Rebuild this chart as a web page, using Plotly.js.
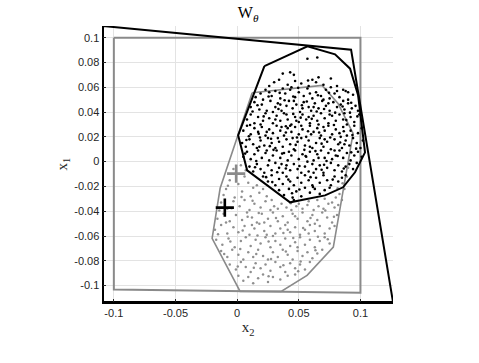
<!DOCTYPE html>
<html>
<head>
<meta charset="utf-8">
<script src="https://cdn.plot.ly/plotly-3.0.1.min.js"></script>
<style>
  html, body { margin: 0; padding: 0; background: #fff; }
  #chart { width: 479px; height: 363px; }
</style>
</head>
<body>
<div id="chart"></div>
<script>
// axis ticks
var xTicks = [-0.1, -0.05, 0, 0.05, 0.1];
var xTickText = ["-0.1", "-0.05", "0", "0.05", "0.1"];
var yTicks = [-0.1, -0.08, -0.06, -0.04, -0.02, 0, 0.02, 0.04, 0.06, 0.08, 0.1];
var yTickText = ["-0.1", "-0.08", "-0.06", "-0.04", "-0.02", "0", "0.02", "0.04", "0.06", "0.08", "0.1"];

// outer black set (quadrilateral)
var outerX = [-0.1088, 0.0924, 0.1264, -0.1088, -0.1088];
var outerY = [0.1094, 0.0903, -0.1132, -0.1132, 0.1094];

// gray box
var boxX = [-0.1, 0.1, 0.1, -0.1, -0.1];
var boxY = [0.1, 0.1, -0.1058, -0.1031, 0.1];

// hull of the black samples
var blackHullX = [0.0221, 0.0570, 0.0794, 0.0916, 0.0981, 0.1037, 0.0956, 0.0859, 0.0713, 0.0429, 0.0081, 0.0008, 0.0221];
var blackHullY = [0.0771, 0.0930, 0.0865, 0.0750, 0.0535, 0.0075, -0.0086, -0.0207, -0.0272, -0.0328, -0.0070, 0.0212, 0.0771];

// hull of the gray samples
var grayHullX = [0.0122, 0.0689, 0.0818, 0.0940, 0.0780, 0.0567, 0.0357, 0.0024, -0.0203, -0.0138, 0.0122];
var grayHullY = [0.0556, 0.0615, 0.0470, 0.0228, -0.0689, -0.0917, -0.1046, -0.1046, -0.0619, -0.0215, 0.0556];

// black samples
var blackPts = [
  [0.057,0.083],[0.065,0.084],
  [0.037,0.071],[0.043,0.072],[0.046,0.070],[0.066,0.068],[0.061,0.066],[0.076,0.067],
  [0.030,0.064],[0.034,0.066],[0.041,0.062],[0.052,0.063],[0.058,0.061],[0.070,0.062],[0.081,0.061],
  [0.088,0.057],[0.090,0.056],[0.026,0.061],[0.047,0.065],[0.064,0.064],[0.076,0.060],[0.044,0.060],
  [0.015,0.052],[0.019,0.055],[0.023,0.058],[0.028,0.053],[0.031,0.057],[0.035,0.051],[0.039,0.055],
  [0.043,0.058],[0.047,0.052],[0.050,0.056],[0.054,0.053],[0.057,0.059],[0.061,0.051],[0.064,0.056],
  [0.068,0.053],[0.072,0.058],[0.075,0.051],[0.079,0.055],[0.083,0.052],[0.086,0.058],[0.090,0.050],
  [0.094,0.054],[0.021,0.050],[0.037,0.059],[0.059,0.055],[0.070,0.050],[0.081,0.057],[0.026,0.056],
  [0.011,0.044],[0.014,0.048],[0.018,0.042],[0.020,0.046],[0.024,0.041],[0.027,0.049],[0.031,0.044],
  [0.033,0.047],[0.036,0.041],[0.040,0.045],[0.042,0.049],[0.045,0.043],[0.048,0.046],[0.051,0.040],
  [0.054,0.048],[0.058,0.044],[0.060,0.041],[0.063,0.047],[0.066,0.043],[0.069,0.049],[0.072,0.045],
  [0.075,0.041],[0.078,0.048],[0.081,0.044],[0.084,0.046],[0.087,0.042],[0.090,0.047],[0.093,0.043],
  [0.096,0.045],[0.098,0.041],[0.029,0.040],[0.046,0.049],[0.062,0.044],[0.074,0.047],[0.086,0.049],
  [0.053,0.043],[0.035,0.046],
  [0.008,0.034],[0.011,0.038],[0.014,0.031],[0.017,0.036],[0.021,0.033],[0.023,0.039],[0.026,0.035],
  [0.029,0.031],[0.032,0.037],[0.035,0.033],[0.038,0.039],[0.041,0.034],[0.044,0.030],[0.047,0.036],
  [0.050,0.032],[0.053,0.038],[0.056,0.034],[0.059,0.031],[0.062,0.037],[0.065,0.033],[0.068,0.039],
  [0.071,0.035],[0.074,0.031],[0.077,0.037],[0.080,0.033],[0.083,0.038],[0.086,0.034],[0.089,0.030],
  [0.092,0.036],[0.095,0.032],[0.099,0.038],[0.101,0.033],[0.019,0.030],[0.040,0.038],[0.058,0.036],
  [0.066,0.030],[0.087,0.039],[0.048,0.033],[0.031,0.034],[0.075,0.038],
  [0.005,0.025],[0.008,0.029],[0.011,0.022],[0.014,0.027],[0.017,0.024],[0.020,0.028],[0.023,0.021],
  [0.026,0.026],[0.029,0.023],[0.032,0.029],[0.035,0.025],[0.038,0.021],[0.041,0.027],[0.044,0.024],
  [0.047,0.028],[0.050,0.022],[0.053,0.026],[0.056,0.020],[0.059,0.029],[0.062,0.024],[0.065,0.027],
  [0.068,0.021],[0.071,0.025],[0.074,0.029],[0.077,0.022],[0.080,0.026],[0.083,0.023],[0.086,0.028],
  [0.089,0.021],[0.092,0.025],[0.095,0.029],[0.098,0.023],[0.101,0.027],[0.043,0.029],[0.060,0.022],
  [0.036,0.028],[0.070,0.028],[0.084,0.020],[0.024,0.024],[0.052,0.029],
  [0.004,0.015],[0.007,0.012],[0.010,0.018],[0.013,0.014],[0.016,0.011],[0.019,0.017],[0.022,0.013],
  [0.025,0.019],[0.028,0.015],[0.031,0.011],[0.034,0.016],[0.037,0.012],[0.040,0.018],[0.043,0.014],
  [0.046,0.010],[0.049,0.016],[0.052,0.019],[0.055,0.013],[0.058,0.017],[0.061,0.011],[0.064,0.015],
  [0.067,0.019],[0.070,0.012],[0.073,0.016],[0.076,0.010],[0.079,0.018],[0.082,0.014],[0.085,0.011],
  [0.088,0.017],[0.091,0.013],[0.094,0.019],[0.097,0.015],[0.100,0.011],[0.102,0.017],[0.045,0.019],
  [0.059,0.012],[0.033,0.019],[0.071,0.018],[0.018,0.012],[0.087,0.014],
  [0.005,0.004],[0.008,0.008],[0.011,0.002],[0.014,0.006],[0.017,0.009],[0.020,0.003],[0.023,0.007],
  [0.026,0.001],[0.029,0.005],[0.032,0.009],[0.035,0.003],[0.038,0.007],[0.041,0.001],[0.044,0.005],
  [0.047,0.009],[0.050,0.002],[0.053,0.006],[0.056,0.004],[0.059,0.008],[0.062,0.001],[0.065,0.006],
  [0.068,0.009],[0.071,0.003],[0.074,0.007],[0.077,0.002],[0.080,0.005],[0.083,0.009],[0.086,0.003],
  [0.089,0.007],[0.092,0.001],[0.095,0.005],[0.098,0.008],[0.101,0.004],[0.042,0.008],[0.057,0.000],
  [0.066,0.003],[0.024,0.009],[0.079,0.009],
  [0.010,-0.004],[0.013,-0.008],[0.016,-0.002],[0.019,-0.006],[0.022,-0.009],[0.025,-0.003],[0.028,-0.007],
  [0.031,-0.001],[0.034,-0.005],[0.037,-0.009],[0.040,-0.003],[0.043,-0.007],[0.046,-0.002],[0.049,-0.006],
  [0.052,-0.009],[0.055,-0.004],[0.058,-0.008],[0.061,-0.002],[0.064,-0.006],[0.067,-0.003],[0.070,-0.009],
  [0.073,-0.005],[0.076,-0.001],[0.079,-0.007],[0.082,-0.003],[0.085,-0.008],[0.088,-0.004],[0.091,-0.002],
  [0.094,-0.006],[0.097,-0.001],[0.036,-0.002],[0.062,-0.009],
  [0.021,-0.012],[0.025,-0.016],[0.028,-0.011],[0.031,-0.019],[0.034,-0.014],[0.037,-0.018],[0.040,-0.012],
  [0.043,-0.016],[0.046,-0.019],[0.049,-0.013],[0.052,-0.017],[0.055,-0.011],[0.058,-0.015],[0.061,-0.019],
  [0.064,-0.013],[0.067,-0.017],[0.070,-0.011],[0.073,-0.015],[0.076,-0.019],[0.079,-0.012],[0.082,-0.016],
  [0.085,-0.013],[0.088,-0.011],
  [0.034,-0.023],[0.038,-0.027],[0.042,-0.022],[0.045,-0.029],[0.048,-0.024],[0.052,-0.028],[0.055,-0.021],
  [0.059,-0.025],[0.063,-0.022],[0.067,-0.026],[0.071,-0.023],[0.075,-0.021],[0.046,-0.031],
  [0.0125,0.0405],[0.0215,0.0365],[0.0335,0.0425],[0.0455,0.0385],[0.0525,0.0455],[0.0605,0.0345],[0.0705,0.0425],
  [0.0795,0.0395],[0.0915,0.0395],[0.0975,0.0365],[0.0095,0.0205],[0.0185,0.0195],[0.0275,0.0185],[0.0395,0.0235],
  [0.0485,0.0195],[0.0575,0.0245],[0.0665,0.0235],[0.0755,0.0195],[0.0865,0.0245],[0.0935,0.0215],[0.0065,0.0065],
  [0.0155,0.0005],[0.0265,0.0125],[0.0365,0.0065],[0.0475,0.0135],[0.0545,0.0095],[0.0635,0.0085],[0.0725,0.0005],
  [0.0835,0.0155],[0.0965,0.0105],[0.0145,-0.0045],[0.0235,-0.0125],[0.0325,-0.0085],[0.0415,-0.0145],[0.0505,-0.0035],
  [0.0595,-0.0125],[0.0685,-0.0065],[0.0775,-0.0145],[0.0865,-0.0055],[0.0445,-0.0255],[0.0165,0.0455],[0.0255,0.0525],
  [0.0385,0.0495],[0.0495,0.0595],[0.0565,0.0485],[0.0655,0.0535],[0.0745,0.0555],[0.0855,0.0445],[0.0925,0.0475],
  [0.0395,0.0285],[0.0295,0.0095],[0.0515,0.0355],[0.0645,0.0405],[0.0785,0.0295],[0.0885,0.0335],[0.0105,0.0295],
  [0.0555,0.0045],[0.0705,-0.0025],[0.0615,-0.0205],[0.0505,-0.0225],[0.0175,0.0225],[0.0345,0.0555],[0.0575,0.0655],
  [0.0815,0.0045],[0.0395,-0.0055],[0.0285,-0.0165],[0.0685,0.0145],[0.0925,0.0075],[0.0455,0.0525],[0.0075,0.0175]
];

// gray samples
var grayPts = [
  [-0.003,-0.006],[0.003,-0.003],[0.006,-0.012],[-0.006,-0.015],[0.001,-0.018],[0.009,-0.017],[0.013,-0.021],
  [-0.009,-0.022],[0.004,-0.024],[0.018,-0.025],[0.011,-0.028],[-0.002,-0.029],[0.024,-0.028],[0.016,-0.019],
  [-0.011,-0.027],[0.007,-0.007],[0.021,-0.022],[0.028,-0.031],
  [0.089,-0.012],[0.087,-0.022],[0.083,-0.026],[0.080,-0.029],[0.085,-0.031],[0.077,-0.033],[0.090,-0.005],
  [0.030,-0.036],[0.036,-0.034],[0.050,-0.034],[0.058,-0.032],[0.065,-0.031],[0.071,-0.030],
  [-0.013,-0.033],[-0.008,-0.038],[-0.003,-0.032],[0.002,-0.036],[0.006,-0.031],[0.010,-0.039],[0.014,-0.034],
  [0.019,-0.037],[0.023,-0.032],[0.027,-0.039],[0.033,-0.038],[0.040,-0.037],[0.044,-0.039],[0.048,-0.036],
  [0.053,-0.038],[0.057,-0.035],[0.062,-0.039],[0.066,-0.036],[0.070,-0.038],[0.074,-0.034],[0.079,-0.037],
  [0.082,-0.035],
  [-0.016,-0.046],[-0.011,-0.042],[-0.006,-0.048],[-0.001,-0.043],[0.004,-0.047],[0.008,-0.041],[0.012,-0.045],
  [0.016,-0.049],[0.020,-0.042],[0.025,-0.046],[0.029,-0.041],[0.033,-0.048],[0.037,-0.044],[0.041,-0.049],
  [0.045,-0.042],[0.049,-0.046],[0.053,-0.041],[0.057,-0.048],[0.061,-0.043],[0.065,-0.047],[0.069,-0.041],
  [0.073,-0.045],[0.077,-0.049],[0.081,-0.043],[0.022,-0.049],[0.047,-0.044],[0.063,-0.050],[-0.009,-0.049],
  [-0.018,-0.055],[-0.013,-0.051],[-0.008,-0.058],[-0.003,-0.053],[0.001,-0.057],[0.006,-0.052],[0.010,-0.059],
  [0.014,-0.054],[0.018,-0.050],[0.022,-0.056],[0.027,-0.052],[0.031,-0.058],[0.035,-0.054],[0.039,-0.051],
  [0.043,-0.057],[0.047,-0.053],[0.051,-0.059],[0.055,-0.055],[0.059,-0.051],[0.063,-0.056],[0.067,-0.052],
  [0.071,-0.058],[0.075,-0.054],[0.079,-0.052],[0.024,-0.059],[0.041,-0.055],[0.058,-0.058],[0.012,-0.051],
  [-0.017,-0.063],[-0.012,-0.067],[-0.007,-0.062],[-0.002,-0.069],[0.003,-0.064],[0.007,-0.061],[0.011,-0.068],
  [0.015,-0.063],[0.019,-0.066],[0.023,-0.061],[0.027,-0.069],[0.031,-0.064],[0.035,-0.067],[0.039,-0.062],
  [0.043,-0.068],[0.047,-0.065],[0.051,-0.061],[0.055,-0.067],[0.059,-0.063],[0.063,-0.069],[0.067,-0.064],
  [0.071,-0.061],[0.075,-0.066],[0.029,-0.060],[0.049,-0.069],
  [-0.013,-0.072],[-0.008,-0.077],[-0.004,-0.071],[0.001,-0.075],[0.005,-0.079],[0.009,-0.073],[0.013,-0.077],
  [0.017,-0.071],[0.021,-0.076],[0.025,-0.079],[0.029,-0.073],[0.033,-0.077],[0.037,-0.071],[0.041,-0.075],
  [0.045,-0.079],[0.049,-0.072],[0.053,-0.076],[0.057,-0.073],[0.061,-0.078],[0.065,-0.074],[0.069,-0.071],
  [-0.006,-0.083],[-0.001,-0.087],[0.003,-0.081],[0.007,-0.085],[0.011,-0.089],[0.015,-0.082],[0.019,-0.086],
  [0.023,-0.083],[0.027,-0.088],[0.031,-0.081],[0.035,-0.085],[0.039,-0.089],[0.043,-0.082],[0.047,-0.086],
  [0.051,-0.083],[0.055,-0.087],[0.059,-0.081],
  [0.001,-0.092],[0.005,-0.096],[0.009,-0.093],[0.013,-0.098],[0.017,-0.094],[0.021,-0.091],[0.025,-0.097],
  [0.029,-0.093],[0.035,-0.095],[0.041,-0.092],[0.047,-0.091],
  [-0.0145,-0.0395],[-0.0045,-0.0375],[0.0085,-0.0445],[0.0175,-0.0415],[0.0315,-0.0455],[0.0435,-0.0335],
  [0.0595,-0.0455],[0.0715,-0.0395],[0.0785,-0.0445],[-0.0155,-0.0585],[-0.0055,-0.0645],[0.0045,-0.0555],
  [0.0165,-0.0595],[0.0255,-0.0645],[0.0375,-0.0575],[0.0455,-0.0615],[0.0535,-0.0535],[0.0655,-0.0605],
  [0.0735,-0.0625],[-0.0105,-0.0745],[0.0025,-0.0705],[0.0155,-0.0745],[0.0275,-0.0785],[0.0395,-0.0725],
  [0.0515,-0.0805],[0.0635,-0.0715],[0.0005,-0.0845],[0.0135,-0.0855],[0.0255,-0.0925],[0.0375,-0.0835],
  [0.0495,-0.0885],[0.0035,-0.0285],[-0.0075,-0.0195],[0.0125,-0.0315],[0.0855,-0.0175],[0.0815,-0.0215]
];

// centre markers
var grayCenter = [-0.0008, -0.0097];
var blackCenter = [-0.0100, -0.0371];

var traces = [
  {x: boxX, y: boxY, mode: "lines", line: {color: "#8a8a8a", width: 2}},
  {x: outerX, y: outerY, mode: "lines", line: {color: "#000", width: 2}},
  {x: grayPts.map(p => p[0]), y: grayPts.map(p => p[1]), mode: "markers",
   marker: {color: "#8f8f8f", size: 2.5}},
  {x: grayHullX, y: grayHullY, mode: "lines", line: {color: "#8a8a8a", width: 1.6}},
  {x: blackPts.map(p => p[0]), y: blackPts.map(p => p[1]), mode: "markers",
   marker: {color: "#000", size: 2.6}},
  {x: blackHullX, y: blackHullY, mode: "lines", line: {color: "#000", width: 2}},
  {x: [grayCenter[0]], y: [grayCenter[1]], mode: "markers",
   marker: {symbol: "cross-thin", size: 13, line: {color: "#8a8a8a", width: 2.6}}},
  {x: [blackCenter[0]], y: [blackCenter[1]], mode: "markers",
   marker: {symbol: "cross-thin", size: 13, line: {color: "#000", width: 2.6}}}
];

var axisFont = {family: "Liberation Sans, Arial, sans-serif", size: 11, color: "#262626"};
var serif = "Liberation Serif, DejaVu Serif, serif";

var layout = {
  width: 479,
  height: 363,
  showlegend: false,
  paper_bgcolor: "#fff",
  plot_bgcolor: "#fff",
  margin: {l: 103, r: 86, t: 25.5, b: 61.3},
  title: {
    text: "W<sub><i>θ</i></sub>",
    font: {family: serif, size: 16, color: "#000"},
    x: 0.518, xanchor: "center", y: 0.965, yanchor: "middle"
  },
  xaxis: {
    range: [-0.1088, 0.1264],
    tickvals: xTicks, ticktext: xTickText,
    tickfont: axisFont,
    showgrid: true, gridcolor: "#e3e3e3", gridwidth: 1,
    zeroline: false,
    showline: true, linecolor: "#000", linewidth: 1.5,
    ticks: "inside", ticklen: 3, tickcolor: "#262626",
    title: {text: "x<sub>2</sub>", font: {family: serif, size: 15, color: "#262626"}, standoff: 4}
  },
  yaxis: {
    range: [-0.1132, 0.1094],
    tickvals: yTicks, ticktext: yTickText,
    tickfont: axisFont,
    showgrid: true, gridcolor: "#e3e3e3", gridwidth: 1,
    zeroline: false,
    showline: true, linecolor: "#000", linewidth: 1.5,
    ticks: "inside", ticklen: 3, tickcolor: "#262626",
    title: {text: "x<sub>1</sub>", font: {family: serif, size: 15, color: "#262626"}, standoff: 3}
  }
};

Plotly.newPlot("chart", traces, layout, {staticPlot: true, displayModeBar: false});
</script>
</body>
</html>
